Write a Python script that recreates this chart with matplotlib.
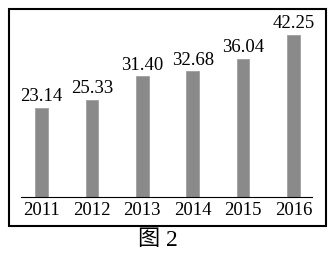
import matplotlib.pyplot as plt
from matplotlib.patches import Rectangle

# données
annees = ["2011", "2012", "2013", "2014", "2015", "2016"]
valeurs = [23.14, 25.33, 31.40, 32.68, 36.04, 42.25]
etiquettes = ["23.14", "25.33", "31.40", "32.68", "36.04", "42.25"]

plt.rcParams['font.family'] = ['Liberation Serif', 'Noto Sans CJK SC']

fig = plt.figure(figsize=(3.34, 2.59), dpi=100)
W, H = 334, 259

# cadre extérieur
fig.patches.append(Rectangle((9 / W, 33.5 / H), 316.5 / W, 216.5 / H,
                             transform=fig.transFigure, fill=False,
                             edgecolor='black', linewidth=1.5))

ax = fig.add_axes([20.7 / W, 62.3 / H, 291 / W, 187.7 / H])
x = list(range(len(annees)))
ax.bar(x, valeurs, width=0.25, color='#8a8a8a', edgecolor='#a0a0a0', linewidth=0.6)
for i, v in enumerate(valeurs):
    ax.annotate(etiquettes[i], (i, v), xytext=(0, 2), textcoords='offset points',
                ha='center', va='bottom', fontsize=13.5)

ax.set_xlim(-0.41, 5.36)
ax.set_ylim(0, 48.96)
ax.set_xticks(x)
ax.set_xticklabels(annees, fontsize=13.5)
ax.tick_params(axis='x', length=0, pad=4)
ax.set_yticks([])
for s in ['top', 'left', 'right']:
    ax.spines[s].set_visible(False)
ax.spines['bottom'].set_linewidth(0.8)
ax.patch.set_alpha(0)

# légende sous le cadre
fig.text(148 / W, 1 - 240 / H, "图", ha='center', va='center', fontsize=16)
fig.text(171.5 / W, 1 - 240 / H, "2", ha='center', va='center', fontsize=17)

fig.savefig('out.png', dpi=100)
